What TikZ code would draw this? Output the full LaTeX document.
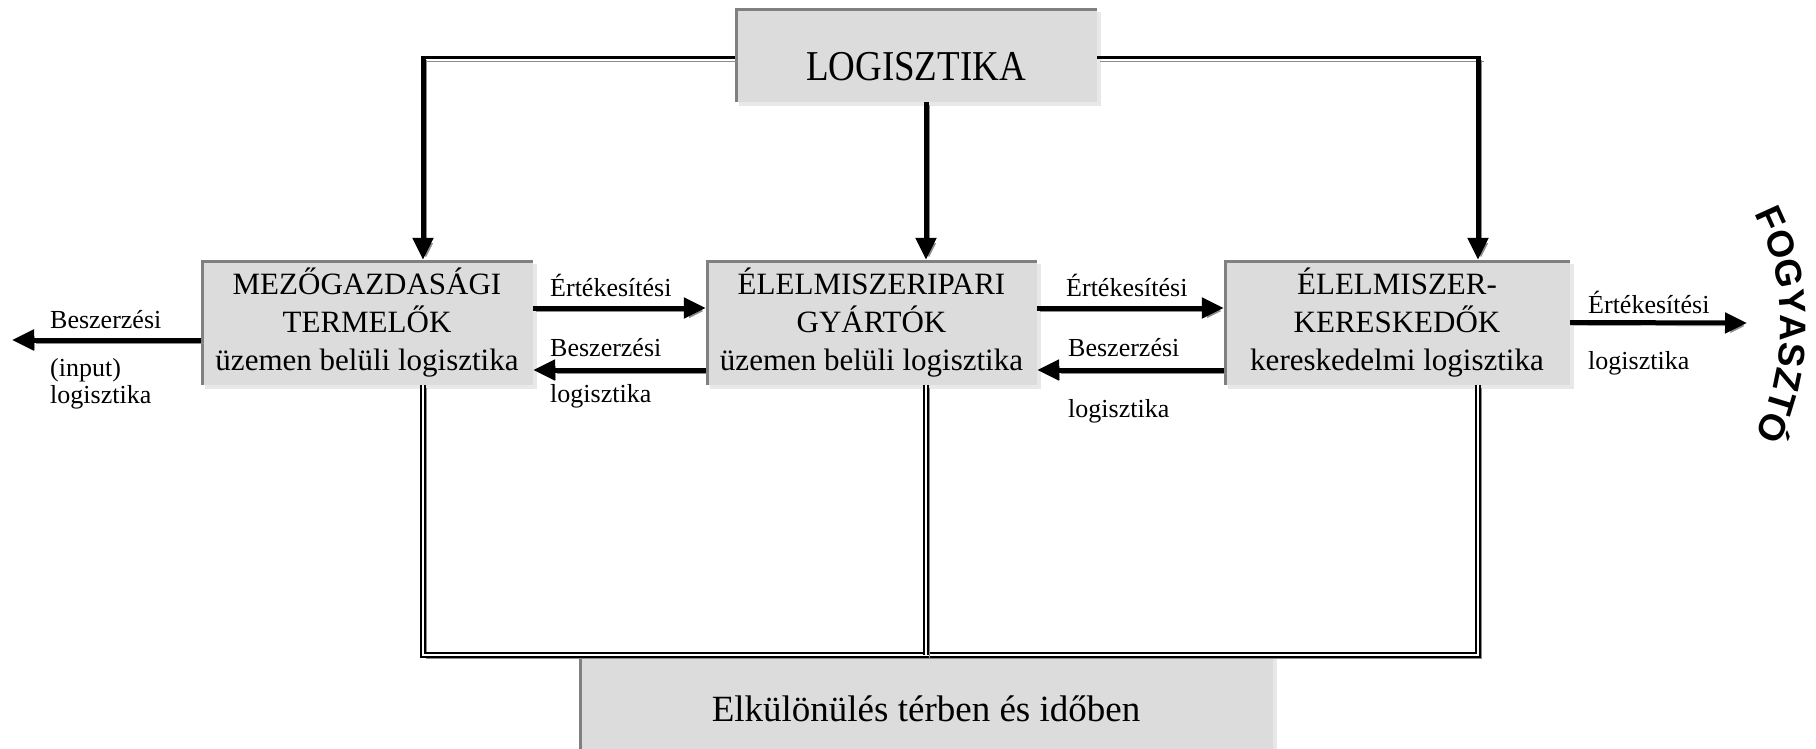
\documentclass[tikz,border=0pt]{standalone}
\usepackage{fontspec}
\usepackage{graphicx}
\setmainfont{Liberation Serif}
\newfontfamily\fogyfont{Liberation Sans}
\usetikzlibrary{arrows.meta,decorations.text,shadows}
\definecolor{boxfill}{HTML}{DCDCDC}
\definecolor{edgegray}{HTML}{808080}
\definecolor{boxshadow}{HTML}{E8E8E8}
\definecolor{lineshadow}{HTML}{8C8C8C}
\begin{document}
\begin{tikzpicture}[x=1pt,y=-1pt,
  gbox/.style={fill=boxfill, inner sep=0pt, align=center,
    font=\fontsize{31}{38}\selectfont,
    general shadow={fill=boxshadow, shadow xshift=4pt, shadow yshift=-4pt},
    path picture={\draw[edgegray, line width=6pt]
      (path picture bounding box.south west) -- (path picture bounding box.north west)
      -- (path picture bounding box.north east);}},
  lab/.style={font=\fontsize{26}{27}\selectfont, inner sep=0pt, anchor=west},
  arr/.style={line width=5pt, -{Triangle[length=22pt,width=20pt]},
    preaction={draw=lineshadow, transform canvas={shift={(3pt,-3pt)}}}},
  toph/.style={line width=3pt,
    preaction={draw=lineshadow, transform canvas={shift={(3pt,-4pt)}}}},
  dline/.style={line width=5.5pt,
    preaction={draw=lineshadow, transform canvas={shift={(3pt,-3pt)}}},
    postaction={draw=white, line width=1.8pt}}
]
\useasboundingbox[fill=white] (0,0) rectangle (1816,748);

% boxes
\node[gbox, minimum width=362pt, minimum height=94pt,
      font=\fontsize{37}{40}\selectfont, text height=50pt, text depth=0pt]
      (logi) at (916,55) {\scalebox{1}[1.15]{LOGISZTIKA}};
\node[gbox, minimum width=332pt, minimum height=125pt] (L) at (367,322.5)
  {MEZŐGAZDASÁGI\\TERMELŐK\\üzemen belüli logisztika};
\node[gbox, minimum width=331pt, minimum height=125pt] (M) at (871.5,322.5)
  {ÉLELMISZERIPARI\\GYÁRTÓK\\üzemen belüli logisztika};
\node[gbox, minimum width=346pt, minimum height=125pt] (R) at (1397,322.5)
  {ÉLELMISZER-\\KERESKEDŐK\\kereskedelmi logisztika};
\node[gbox, minimum width=694pt, minimum height=107pt,
      font=\fontsize{37}{40}\selectfont] (E) at (926,708.5)
  {Elkülönülés térben és időben};

% helper coordinates
\coordinate (ya) at (0,308);
\coordinate (yb) at (0,370);
\coordinate (yl) at (0,340);
\coordinate (yt) at (0,57);
\coordinate (xl) at (423,0);
\coordinate (xm) at (926,0);
\coordinate (xr) at (1478,0);
\coordinate (leftend) at (12,340);
\coordinate (rightend) at (1747,323);

% top connectors
\draw[toph] (logi.west |- yt) -- ([xshift=-2.5pt]xl |- yt);
\draw[arr] (xl |- yt) -- (xl |- L.north);
\draw[arr] (logi.south -| xm) -- (M.north -| xm);
\draw[toph] (logi.east |- yt) -- ([xshift=2.5pt]xr |- yt);
\draw[arr] (xr |- yt) -- (xr |- R.north);

% horizontal flows
\draw[arr] (L.east |- ya) -- (M.west |- ya);
\draw[arr] (M.west |- yb) -- (L.east |- yb);
\draw[arr] (M.east |- ya) -- (R.west |- ya);
\draw[arr] (R.west |- yb) -- (M.east |- yb);
\draw[arr] (R.east) -- (rightend);
\draw[arr] (L.west |- yl) -- (leftend);

% bottom connectors
\draw[dline] (L.south -| xl) -- (xl |- E.north) -- (xr |- E.north) -- (R.south -| xr);
\draw[dline] (M.south -| xm) -- (xm |- E.north);

% labels
\node[lab] (t1) at (550,285) {Értékesítési};
\node[lab] (t2) at (550,348) {Beszerzési};
\node[lab] (t3) at (550,396) {logisztika};
\node[lab] (t4) at (1066,285) {Értékesítési};
\node[lab] (t5) at (1068,348) {Beszerzési};
\node[lab] (t6) at (1068,411) {logisztika};
\node[lab] (t7) at (1588,302) {Értékesítési};
\node[lab] (t8) at (1588,363) {logisztika};
\node[lab] (t9) at (50,320) {Beszerzési};
\node[lab, align=left] (t10) at (50,384) {(input)\\logisztika};

% curved consumer text
\path[decorate, decoration={text along path, text align=center,
   text format delimiters={|}{|},
   text={|\fogyfont\bfseries\fontsize{37}{37}\selectfont|FOGYASZTÓ}}]
   (1737,186) .. controls (1795,262) and (1795,388) .. (1737,464);
\end{tikzpicture}
\end{document}
